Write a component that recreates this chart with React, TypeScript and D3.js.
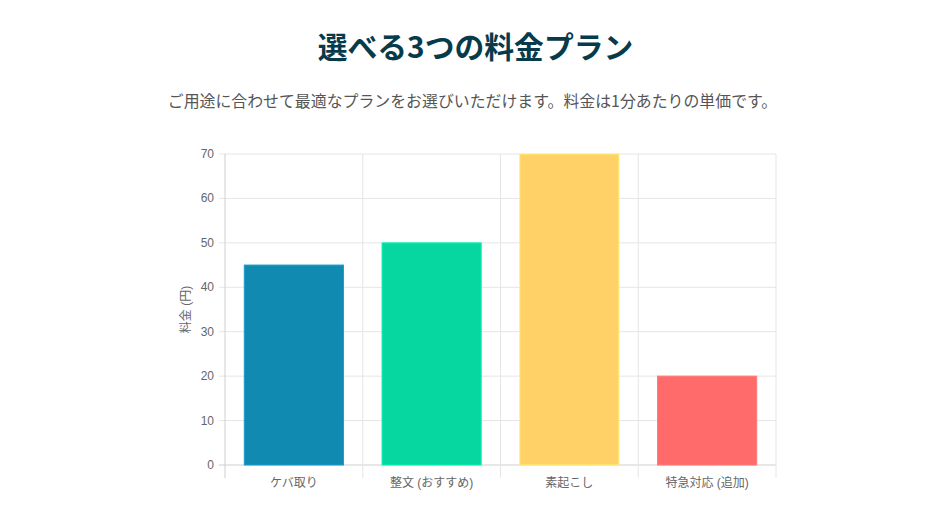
import * as d3 from "d3";

const W = 951;
const H = 521;

const categories = ["ケバ取り", "整文 (おすすめ)", "素起こし", "特急対応 (追加)"];
const prices = [45, 50, 70, 20];
const barColors = ["#118AB2", "#06D6A0", "#FFD166", "#FF6B6B"];
const yTicks = [0, 10, 20, 30, 40, 50, 60, 70];

const M = { left: 225, right: 776, top: 154, bottom: 465 };
const FONT = "'Liberation Sans', Arial, 'Noto Sans CJK JP', sans-serif";

export default function App() {
	const x = d3.scaleBand<string>().domain(categories).range([M.left, M.right]).paddingInner(0).paddingOuter(0);
	const y = d3.scaleLinear().domain([0, 70]).range([M.bottom, M.top]);
	const bw = x.bandwidth() * 0.72;

	return (
		<svg width={W} height={H} style={{ position: "absolute", left: 0, top: 0, background: "#fff" }}>
			<text
				x={475.5}
				y={58}
				textAnchor="middle"
				fontFamily="'Noto Sans CJK JP', sans-serif"
				fontWeight={700}
				fontSize={29.8}
				fill="#073B4C"
			>
				選べる3つの料金プラン
			</text>
			<text
				x={472.5}
				y={107}
				textAnchor="middle"
				fontFamily="'Noto Sans CJK JP', sans-serif"
				fontSize={15.9}
				fill="#555"
			>
				ご用途に合わせて最適なプランをお選びいただけます。料金は1分あたりの単価です。
			</text>

			{/* horizontal grid */}
			{yTicks.map((t) => (
				<g key={t}>
					<line x1={M.left - 6} x2={M.right} y1={y(t)} y2={y(t)} stroke={t === 0 ? "#cfcfcf" : "#e5e5e5"} />
					<text x={M.left - 11} y={y(t) + 4} textAnchor="end" fontFamily={FONT} fontSize={12} fill="#666">
						{t}
					</text>
				</g>
			))}

			{/* vertical grid */}
			{categories.map((c, i) => (
				<line
					key={c}
					x1={x(c)!}
					x2={x(c)!}
					y1={M.top}
					y2={M.bottom + 13}
					stroke={i === 0 ? "#cfcfcf" : "#e5e5e5"}
				/>
			))}
			<line x1={M.right} x2={M.right} y1={M.top} y2={M.bottom + 13} stroke="#e5e5e5" />

			{/* bars */}
			{categories.map((c, i) => {
				const x0 = x(c)! + (x.bandwidth() - bw) / 2;
				return (
					<rect
						key={c}
						x={x0}
						y={y(prices[i])}
						width={bw}
						height={y(0) - y(prices[i])}
						fill={barColors[i]}
						stroke={d3.color(barColors[i])!.brighter(0.4).formatHex()}
						strokeWidth={1}
					/>
				);
			})}

			{/* x labels */}
			{categories.map((c) => (
				<text
					key={c}
					x={x(c)! + x.bandwidth() / 2}
					y={487}
					textAnchor="middle"
					fontFamily={FONT}
					fontSize={12}
					fill="#666"
				>
					{c}
				</text>
			))}

			<text
				transform={`translate(190,${(M.top + M.bottom) / 2}) rotate(-90)`}
				textAnchor="middle"
				fontFamily={FONT}
				fontSize={12}
				fill="#666"
			>
				料金 (円)
			</text>
		</svg>
	);
}
